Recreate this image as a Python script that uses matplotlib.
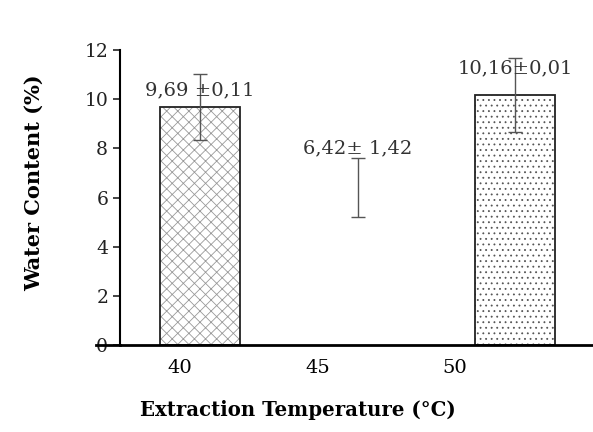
import numpy as np
import matplotlib.pyplot as plt

# Data
temps = ['40', '45', '50']
water = [9.69, 6.42, 10.16]
err_drawn = [1.35, 1.2, 1.5]
labels = ['9,69 ±0,11', '6,42± 1,42', '10,16±0,01']

plt.rcParams['font.family'] = ['DejaVu Serif']
plt.rcParams['hatch.linewidth'] = 0.6

fig = plt.figure(figsize=(5.93, 4.32), dpi=100)
ax = fig.add_axes([120 / 593, 1 - 345 / 432, 473 / 593, 295 / 432])

x = np.arange(len(temps))
faces = ['white', 'none', 'white']
edges = ['#222222', 'none', '#222222']
hatches = ['xxx', None, '...']
hatch_cols = ['#999999', 'none', '#555555']
for i in range(len(temps)):
    ax.bar(x[i], water[i], width=0.51, color=faces[i], edgecolor=hatch_cols[i],
           hatch=hatches[i], linewidth=0, zorder=2)
    # outline drawn separately so the hatch can stay light
    ax.bar(x[i], water[i], width=0.51, color='none', edgecolor=edges[i],
           linewidth=1.3, zorder=2.5)
ax.errorbar(x, water, yerr=err_drawn, fmt='none', ecolor='#555555',
            elinewidth=1.0, capsize=5, zorder=3)

# value labels
label_y = [10.35, 8.0, 11.25]
for i in range(len(temps)):
    ax.text(x[i], label_y[i], labels[i], ha='center', va='center',
            fontsize=14, color='#333333', zorder=4)

ax.set_xlim(-0.508, 2.495)
ax.set_ylim(0, 12)
ax.set_yticks([0, 2, 4, 6, 8, 10, 12])
ax.tick_params(axis='y', labelsize=13.5, length=5, width=1.2, colors='#222222')
ax.set_xticks([-0.127, 0.749, 1.619])
ax.set_xticklabels(temps)
ax.tick_params(axis='x', labelsize=14, length=0, pad=10)

for s in ['top', 'right']:
    ax.spines[s].set_visible(False)
ax.spines['left'].set_linewidth(1.5)
ax.spines['bottom'].set_linewidth(2)
ax.axhline(0, xmin=-0.05, xmax=0, color='black', linewidth=2, clip_on=False)

ax.set_ylabel('Water Content (%)', fontsize=15, fontweight='bold')
ax.set_xlabel('Extraction Temperature (°C)', fontsize=14.2, fontweight='bold')
ax.yaxis.set_label_coords(-76 / 473, 0.55)
ax.xaxis.set_label_coords((298 - 120) / 473, -55 / 295)

fig.savefig('out.png', dpi=100)
